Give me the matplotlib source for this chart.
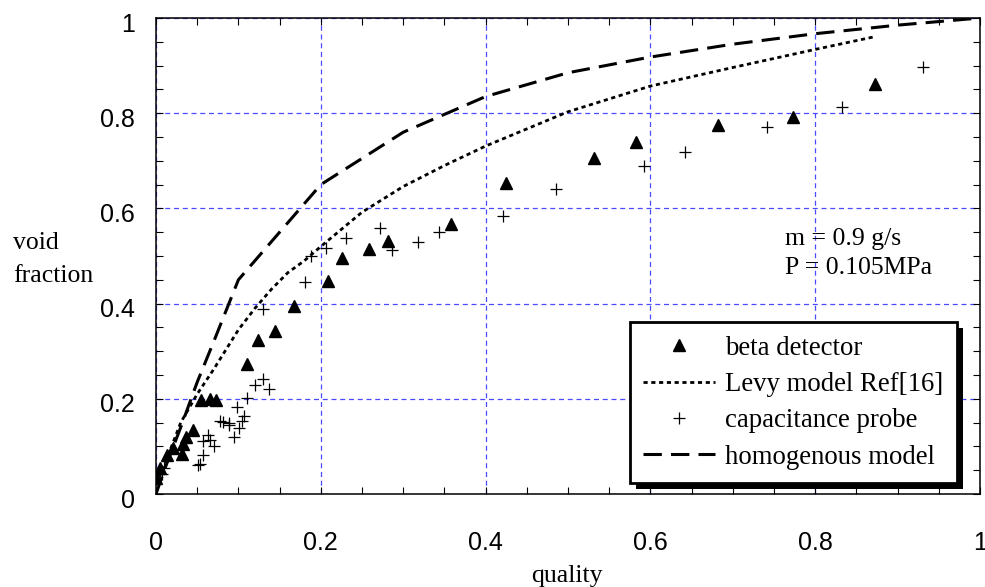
import matplotlib
matplotlib.use('Agg')
import matplotlib.pyplot as plt
from matplotlib.patches import Rectangle
from matplotlib.transforms import ScaledTranslation, IdentityTransform
from matplotlib.font_manager import FontProperties

# ---------------- data ----------------
beta_x = [0.000, 0.005, 0.013, 0.021, 0.031, 0.033, 0.037, 0.045, 0.055, 0.065,
          0.073, 0.111, 0.124, 0.144, 0.168, 0.209, 0.226, 0.258, 0.282, 0.358,
          0.425, 0.531, 0.583, 0.682, 0.773, 0.873]
beta_y = [0.034, 0.055, 0.082, 0.096, 0.084, 0.104, 0.119, 0.134, 0.197, 0.200,
          0.197, 0.273, 0.324, 0.342, 0.394, 0.448, 0.495, 0.515, 0.532, 0.568,
          0.654, 0.705, 0.740, 0.775, 0.793, 0.861]

cap_x = [0.007, 0.010, 0.051, 0.053, 0.057, 0.0575, 0.0635, 0.066, 0.070, 0.078,
         0.081, 0.088, 0.089, 0.095, 0.101, 0.104, 0.107, 0.098, 0.110, 0.120,
         0.130, 0.1375, 0.130, 0.181, 0.188, 0.206, 0.231, 0.272, 0.287, 0.318,
         0.343, 0.4215, 0.485, 0.592, 0.642, 0.742, 0.833, 0.931]
cap_y = [0.043, 0.055, 0.061, 0.064, 0.082, 0.112, 0.124, 0.113, 0.101, 0.153,
         0.152, 0.145, 0.150, 0.120, 0.138, 0.153, 0.163, 0.182, 0.201, 0.230,
         0.241, 0.221, 0.389, 0.445, 0.500, 0.516, 0.537, 0.558, 0.513, 0.529,
         0.551, 0.585, 0.640, 0.689, 0.718, 0.770, 0.814, 0.898]

levy_x = [0.0, 0.01, 0.03, 0.05, 0.07, 0.10, 0.12, 0.14, 0.16, 0.18, 0.20,
          0.25, 0.30, 0.35, 0.40, 0.50, 0.60, 0.70, 0.80, 0.873]
levy_y = [0.02, 0.06, 0.15, 0.21, 0.262, 0.345, 0.39, 0.43, 0.465, 0.49, 0.52,
          0.592, 0.646, 0.69, 0.731, 0.803, 0.857, 0.896, 0.934, 0.961]

hom_x = [0.0, 0.01, 0.03, 0.05, 0.07, 0.10, 0.20, 0.30, 0.40, 0.50, 0.60,
         0.70, 0.80, 0.90, 1.00]
hom_y = [0.0, 0.05, 0.14, 0.235, 0.32, 0.45, 0.65, 0.76, 0.835, 0.885, 0.918,
         0.945, 0.967, 0.985, 1.0]

tick_vals = [0, 0.2, 0.4, 0.6, 0.8, 1]
tick_labels = ['0', '0.2', '0.4', '0.6', '0.8', '1']

legend_labels = ['beta detector', 'Levy model Ref[16]', 'capacitance probe',
                 'homogenous model']

# ---------------- figure ----------------
W, H = 985, 587
fig = plt.figure(figsize=(W / 100, H / 100), dpi=100)
ax = fig.add_axes([156 / W, 93 / H, 824 / W, 476 / H])

serif = FontProperties(family='Liberation Serif', size=18.5)
serif_leg = FontProperties(family='Liberation Serif', size=19.3)
sans = FontProperties(family='Liberation Sans', size=18)

h_hom, = ax.plot(hom_x, hom_y, color='black', lw=2.2,
                 linestyle=(0, (6, 3)), label=legend_labels[3], zorder=3)
h_levy, = ax.plot(levy_x, levy_y, color='black', lw=2.0,
                  linestyle=(0, (1.5, 1.3)), label=legend_labels[1], zorder=3)
h_beta, = ax.plot(beta_x, beta_y, linestyle='none', marker='^', color='black',
                  ms=8, label=legend_labels[0], zorder=4)
h_cap, = ax.plot(cap_x, cap_y, linestyle='none', marker='+', color='black',
                 ms=9, mew=0.9, label=legend_labels[2], zorder=4)

ax.set_xlim(0, 1)
ax.set_ylim(0, 1)
ax.set_xticks(tick_vals)
ax.set_xticklabels(tick_labels, fontproperties=sans)
ax.set_yticks(tick_vals)
ax.set_yticklabels(tick_labels, fontproperties=sans)
ax.set_xticks([i * 0.05 for i in range(21)], minor=True)
ax.set_yticks([i * 0.05 for i in range(21)], minor=True)

ax.tick_params(which='both', direction='in', top=True, right=True,
               length=5, width=0.8, color='black')
ax.tick_params(axis='x', which='major', pad=27)
ax.tick_params(axis='y', which='major', pad=15)

ax.grid(True, which='major', color='#4a4aff', lw=0.9, linestyle=(0, (4, 3)))
for s in ax.spines.values():
    s.set_color('black')
    s.set_linewidth(1.1)

# shift y tick labels slightly down, like the reference
off = ScaledTranslation(0, -4 / 100, fig.dpi_scale_trans)
for lbl in ax.get_yticklabels():
    lbl.set_transform(lbl.get_transform() + off)

leg = ax.legend(handles=[h_beta, h_levy, h_cap, h_hom], labels=legend_labels,
                loc='lower right', bbox_to_anchor=(0.972, 0.023),
                borderaxespad=0, frameon=True, fancybox=False,
                edgecolor='black', framealpha=1, prop=serif_leg,
                handlelength=2.7, handletextpad=0.37, labelspacing=0.42,
                borderpad=0.5)
leg.get_frame().set_linewidth(2)
leg.set_zorder(10)

# axis labels and annotation
fig.text(13 / W, (H - 249) / H, 'void', fontproperties=serif, va='baseline', ha='left')
fig.text(13 / W, (H - 282) / H, 'fraction', fontproperties=serif, va='baseline', ha='left')
fig.text(567 / W, (H - 582) / H, 'quality', fontproperties=serif, va='baseline', ha='center')
fig.text(785 / W, (H - 245) / H, 'm = 0.9 g/s', fontproperties=serif, va='baseline', ha='left')
fig.text(785 / W, (H - 274) / H, 'P = 0.105MPa', fontproperties=serif, va='baseline', ha='left')

# black drop shadow behind the legend
fig.canvas.draw()
bb = leg.get_window_extent()
shadow = Rectangle((bb.x0 + 6, bb.y0 - 6), bb.width, bb.height,
                   transform=IdentityTransform(), facecolor='black',
                   edgecolor='none', zorder=9)
ax.add_artist(shadow)

fig.savefig('out.png', dpi=100)
